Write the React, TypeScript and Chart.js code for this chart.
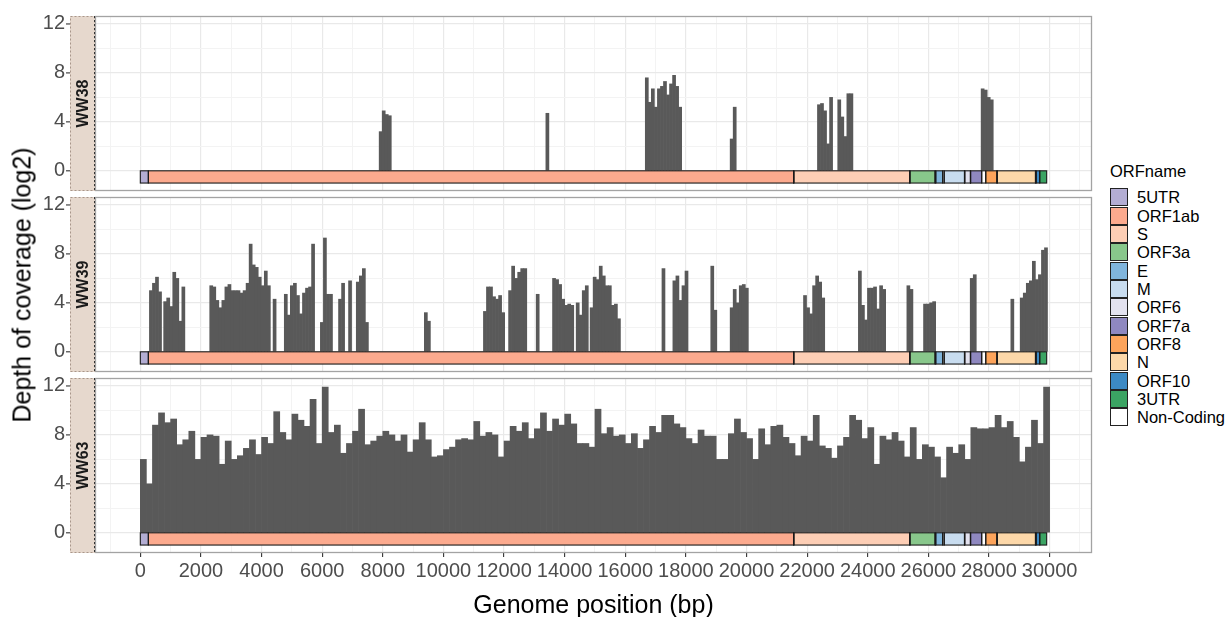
import React, { useEffect, useRef } from "react";
import { Chart, registerables } from "chart.js";

Chart.register(...registerables);

const FONT = '"Liberation Sans", Arial, Helvetica, sans-serif';

// ---------- facets ----------
const sampleNames = ["WW38", "WW39", "WW63"];

// ---------- axes ----------
const xTickLabels = [0, 2000, 4000, 6000, 8000, 10000, 12000, 14000, 16000, 18000, 20000, 22000, 24000, 26000, 28000, 30000];
const xGridBreaks = [-1000, 0, 1000, 2000, 3000, 4000, 5000, 6000, 7000, 8000, 9000, 10000, 11000, 12000, 13000, 14000, 15000, 16000, 17000, 18000, 19000, 20000, 21000, 22000, 23000, 24000, 25000, 26000, 27000, 28000, 29000, 30000, 31000];
const yTickLabels = [0, 4, 8, 12];
const yGridBreaks = [0, 2, 4, 6, 8, 10, 12];
const X_MIN = -1495;
const X_MAX = 31398;
const Y_MIN = -1.65;
const Y_MAX = 12.65;

// ---------- legend / ORF annotation ----------
const orfNames = ["5UTR", "ORF1ab", "S", "ORF3a", "E", "M", "ORF6", "ORF7a", "ORF8", "N", "ORF10", "3UTR", "Non-Coding"];
const orfColors = ["#B3ADD3", "#FCAA8E", "#FDCEB5", "#88C78B", "#80B5DC", "#C8DCEF", "#E3E2EF", "#8F88C0", "#FDA45B", "#FDD8A9", "#3C8AC5", "#3BA463", "#FFFFFF"];

const segName = ["5UTR", "ORF1ab", "Non-Coding", "S", "Non-Coding", "ORF3a", "Non-Coding", "E", "Non-Coding", "M", "Non-Coding", "ORF6", "Non-Coding", "ORF7a", "Non-Coding", "ORF8", "Non-Coding", "N", "Non-Coding", "ORF10", "3UTR"];
const segStart = [1, 266, 21556, 21563, 25385, 25393, 26221, 26245, 26473, 26523, 27192, 27202, 27388, 27394, 27760, 27894, 28260, 28274, 29534, 29558, 29675];
const segEnd = [265, 21555, 21562, 25384, 25392, 26220, 26244, 26472, 26522, 27191, 27201, 27387, 27393, 27759, 27893, 28259, 28273, 29533, 29557, 29674, 29903];

// ---------- coverage (log2 depth) ----------
const SPARSE_BIN = 100; // bp per bar in WW38 / WW39 runs
const DENSE_BIN = 200; // bp per bar in WW63

const ww38RunStarts = [7880, 13380, 16660, 19460, 22340, 23010, 27740];
const ww38RunDepths = [
  [3.2, 4.9, 4.6, 4.5],
  [4.7],
  [7.6, 5.6, 6.7, 5.2, 6.7, 6.9, 7.3, 6.2, 7.1, 7.8, 6.9, 5.2],
  [2.6, 5.2],
  [5.4, 5.5, 4.9, 2.2, 6.0],
  [5.8, 4.4, 2.8, 6.3, 6.3],
  [6.7, 6.6, 6.0, 5.8],
];

const ww39RunStarts = [300, 770, 2290, 4380, 4750, 5940, 6540, 6870, 7125, 9370, 11320, 12150, 13060, 13600, 14380, 14840, 17210, 17570, 18820, 19460, 21880, 23690, 25290, 25840, 27380, 28720, 29030];
const ww39RunDepths = [
  [5.0, 5.6, 6.1, 4.9],
  [4.1, 4.4, 3.7, 6.5, 6.0, 2.5, 5.3],
  [5.4, 5.3, 4.2, 3.6, 4.2, 5.3, 5.5, 5.0, 5.0, 5.0, 4.8, 5.0, 5.6, 8.8, 7.1, 6.9, 6.1, 5.4, 6.6, 5.4],
  [4.3],
  [4.7, 3.0, 5.4, 5.6, 4.6, 3.1, 4.8, 5.2, 5.3, 8.8],
  [2.4, 9.3, 4.7, 4.7],
  [4.3, 5.6],
  [5.8],
  [5.7, 6.2, 6.8, 2.4],
  [3.2, 2.5],
  [3.3, 5.3, 5.3, 4.5, 4.3, 4.6, 3.2],
  [5.0, 7.0, 6.0, 6.5, 6.8, 6.8],
  [4.7],
  [6.0, 5.9, 5.5, 4.3, 3.8, 3.9, 3.8],
  [4.0, 3.0, 5.0, 5.4],
  [3.6, 6.1, 5.9, 7.0, 6.2, 5.4, 5.4, 3.8, 3.9, 2.7],
  [6.8],
  [5.8, 6.2, 4.2, 5.4, 6.6],
  [7.0, 3.4],
  [3.6, 5.1, 4.0, 5.4, 5.5, 5.2],
  [4.6, 3.6, 3.1, 5.4, 6.2, 5.7, 4.4],
  [6.6, 3.8, 2.6, 5.2, 5.2, 5.3, 3.5, 5.4, 5.1],
  [5.4, 5.1],
  [3.9, 3.9, 4.0, 4.1],
  [6.0, 6.3],
  [4.3],
  [4.4, 4.8, 5.6, 5.8, 7.4, 5.9, 6.3, 8.3, 8.5],
];

const ww63Depth = [
  6.0, 4.0, 8.8, 9.8, 9.0, 9.3, 7.2, 7.6, 8.3, 6.0,
  7.8, 8.0, 7.9, 5.6, 7.5, 6.0, 6.3, 6.9, 7.6, 6.4,
  7.8, 7.3, 9.9, 8.2, 7.6, 9.7, 9.2, 8.7, 10.9, 7.3,
  11.9, 8.2, 8.8, 6.5, 7.3, 8.3, 10.1, 7.2, 7.5, 7.9,
  8.3, 8.0, 7.5, 8.0, 6.6, 7.6, 9.0, 7.6, 6.2, 6.3,
  6.8, 7.0, 7.6, 7.7, 7.6, 9.1, 7.9, 8.2, 8.0, 6.2,
  7.5, 8.7, 8.3, 9.0, 7.7, 8.5, 9.8, 8.3, 9.3, 8.8,
  9.7, 8.9, 7.3, 7.3, 7.0, 10.1, 8.1, 8.6, 7.9, 8.0,
  7.3, 8.1, 6.9, 7.6, 8.7, 8.2, 9.6, 9.6, 8.9, 8.6,
  7.7, 7.3, 8.4, 7.9, 7.9, 6.0, 6.0, 8.1, 9.3, 8.2,
  7.7, 6.0, 8.5, 7.2, 8.7, 8.8, 7.8, 7.3, 6.3, 7.9,
  7.5, 9.6, 7.1, 6.9, 6.1, 7.1, 7.8, 9.6, 9.2, 7.7,
  8.6, 5.6, 7.9, 7.6, 8.2, 7.5, 6.2, 8.6, 6.0, 7.2,
  7.0, 6.2, 4.5, 7.0, 6.5, 7.2, 6.0, 8.6, 8.5, 8.5,
  8.6, 9.6, 8.6, 9.1, 7.8, 5.8, 7.0, 9.2, 7.3, 11.9,
];

type Pt = { x: number; y: number };

function runsToPoints(starts: number[], depths: number[][], bin: number): Pt[] {
  const pts: Pt[] = [];
  starts.forEach((s, i) => {
    depths[i].forEach((d, j) => pts.push({ x: s + bin * (j + 0.5), y: d }));
  });
  return pts;
}

function denseToPoints(depths: number[], bin: number): Pt[] {
  return depths.map((d, i) => ({ x: bin * (i + 0.5), y: d }));
}

const sampleData: Pt[][] = [
  runsToPoints(ww38RunStarts, ww38RunDepths, SPARSE_BIN),
  runsToPoints(ww39RunStarts, ww39RunDepths, SPARSE_BIN),
  denseToPoints(ww63Depth, DENSE_BIN),
];

// ---------- layout ----------
const PANEL_TOPS = [16, 197, 378];
const PANEL_H = 175;
const PAD_TOP = 10;
const CANVAS_W = 1100;
const AXIS_W = 95;
const STRIP_L = 70;
const STRIP_R = 95;

function colorFor(name: string): string {
  const i = orfNames.indexOf(name);
  return i >= 0 ? orfColors[i] : "#FFFFFF";
}

function makeDecor(name: string) {
  return {
    id: "decor" + name,
    afterDatasetsDraw(chart: any) {
      const { ctx, scales } = chart;
      const xs = scales.x;
      const ys = scales.y;
      const y0 = ys.getPixelForValue(0);
      const y1 = ys.getPixelForValue(-1);
      ctx.save();
      segStart.forEach((s: number, i: number) => {
        const xa = xs.getPixelForValue(s - 1);
        const xb = xs.getPixelForValue(segEnd[i]);
        ctx.fillStyle = colorFor(segName[i]);
        ctx.fillRect(xa, y0, xb - xa, y1 - y0);
      });
      ctx.lineWidth = 1.1;
      ctx.strokeStyle = "#1A1A1A";
      segStart.forEach((s: number, i: number) => {
        const xa = xs.getPixelForValue(s - 1);
        const xb = xs.getPixelForValue(segEnd[i]);
        ctx.strokeRect(xa, y0, xb - xa, y1 - y0);
      });
      ctx.restore();
    },
    afterDraw(chart: any) {
      const { ctx, chartArea: a, scales } = chart;
      const ys = scales.y;
      ctx.save();
      // panel border
      ctx.strokeStyle = "#A3A3A3";
      ctx.lineWidth = 1.3;
      ctx.strokeRect(a.left + 0.5, a.top + 0.5, a.right - a.left - 1, a.bottom - a.top - 1);
      // strip
      ctx.fillStyle = "#E6D8CD";
      ctx.fillRect(STRIP_L, a.top, STRIP_R - STRIP_L, a.bottom - a.top);
      ctx.setLineDash([2, 2]);
      ctx.lineWidth = 1;
      ctx.strokeStyle = "#A8968A";
      ctx.strokeRect(STRIP_L + 0.5, a.top + 0.5, STRIP_R - STRIP_L - 1, a.bottom - a.top - 1);
      ctx.strokeStyle = "#333333";
      ctx.beginPath();
      ctx.moveTo(STRIP_R - 0.5, a.top);
      ctx.lineTo(STRIP_R - 0.5, a.bottom);
      ctx.stroke();
      ctx.setLineDash([]);
      ctx.translate((STRIP_L + STRIP_R) / 2, (a.top + a.bottom) / 2);
      ctx.rotate(-Math.PI / 2);
      ctx.fillStyle = "#1A1A1A";
      ctx.font = "bold 16px " + FONT;
      ctx.textAlign = "center";
      ctx.textBaseline = "middle";
      ctx.fillText(name, 0, 1);
      ctx.restore();
      // y tick marks (outside strip)
      ctx.save();
      ctx.strokeStyle = "#333333";
      ctx.lineWidth = 1.1;
      yTickLabels.forEach((v) => {
        const py = ys.getPixelForValue(v);
        ctx.beginPath();
        ctx.moveTo(66, py);
        ctx.lineTo(70, py);
        ctx.stroke();
      });
      ctx.restore();
    },
  };
}

function isLabelled(v: number): boolean {
  return xTickLabels.indexOf(v) >= 0;
}

function makeConfig(idx: number, showX: boolean): any {
  return {
    type: "bar",
    data: {
      datasets: [
        {
          data: sampleData[idx],
          backgroundColor: "#595959",
          borderWidth: 0,
          barPercentage: 1,
          categoryPercentage: 1,
        },
      ],
    },
    options: {
      animation: false,
      responsive: false,
      maintainAspectRatio: false,
      events: [],
      layout: { autoPadding: false, padding: { top: PAD_TOP, right: CANVAS_W - 1092, bottom: 0, left: 0 } },
      plugins: { legend: { display: false }, tooltip: { enabled: false } },
      scales: {
        x: {
          type: "linear",
          offset: false,
          min: X_MIN,
          max: X_MAX,
          afterBuildTicks: (s: any) => {
            s.ticks = xGridBreaks.map((v) => ({ value: v }));
          },
          afterFit: (s: any) => {
            s.height = showX ? 40 : 10;
            s.paddingLeft = 0;
            s.paddingRight = 0;
            s.paddingTop = 0;
            s.paddingBottom = 0;
          },
          ticks: {
            display: showX,
            autoSkip: false,
            minRotation: 0,
            maxRotation: 0,
            padding: 2,
            color: "#4D4D4D",
            font: { family: FONT, size: 20 },
            callback: (v: any) => (isLabelled(Number(v)) ? String(v) : ""),
          },
          grid: {
            offset: false,
            color: (c: any) => (c.tick && isLabelled(c.tick.value) ? "#E9E9E9" : "#F3F3F3"),
            lineWidth: (c: any) => (c.tick && isLabelled(c.tick.value) ? 1.2 : 1),
            drawTicks: showX,
            tickLength: 4,
            tickColor: (c: any) => (c.tick && isLabelled(c.tick.value) ? "#333333" : "rgba(0,0,0,0)"),
            tickWidth: 1.1,
          },
          border: { display: false },
        },
        y: {
          type: "linear",
          min: Y_MIN,
          max: Y_MAX,
          afterBuildTicks: (s: any) => {
            s.ticks = yGridBreaks.map((v) => ({ value: v }));
          },
          afterFit: (s: any) => {
            s.width = AXIS_W;
            s.paddingLeft = 0;
            s.paddingRight = 0;
            s.paddingTop = 0;
            s.paddingBottom = 0;
          },
          ticks: {
            padding: 30,
            color: "#4D4D4D",
            font: { family: FONT, size: 20 },
            callback: (v: any) => (yTickLabels.indexOf(Number(v)) >= 0 ? String(v) : ""),
          },
          grid: {
            color: (c: any) => (c.tick && yTickLabels.indexOf(c.tick.value) >= 0 ? "#E9E9E9" : "#F3F3F3"),
            lineWidth: (c: any) => (c.tick && yTickLabels.indexOf(c.tick.value) >= 0 ? 1.2 : 1),
            drawTicks: false,
          },
          border: { display: false },
        },
      },
    },
    plugins: [makeDecor(sampleNames[idx])],
  };
}

function Panel({ idx, showX }: { idx: number; showX: boolean }) {
  const ref = useRef<HTMLCanvasElement>(null);
  const h = PAD_TOP + PANEL_H + (showX ? 40 : 10);
  useEffect(() => {
    const chart = new Chart(ref.current as HTMLCanvasElement, makeConfig(idx, showX));
    return () => chart.destroy();
  }, [idx, showX]);
  return (
    <canvas
      ref={ref}
      width={CANVAS_W}
      height={h}
      style={{ position: "absolute", left: 0, top: PANEL_TOPS[idx] - PAD_TOP, width: CANVAS_W, height: h }}
    />
  );
}

const KEY_TOP = 188.3;
const KEY_STEP = 18.33;

export default function App() {
  return (
    <div
      style={{
        position: "fixed",
        left: 0,
        top: 0,
        width: 1228,
        height: 617,
        background: "#FFFFFF",
        fontFamily: FONT,
        overflow: "hidden",
      }}
    >
      {sampleNames.map((n, i) => (
        <Panel key={n} idx={i} showX={i === sampleNames.length - 1} />
      ))}
      <div
        style={{
          position: "absolute",
          left: 22,
          top: 285,
          transform: "translate(-50%, -50%) rotate(-90deg)",
          fontSize: 25,
          lineHeight: "25px",
          whiteSpace: "nowrap",
          color: "#000",
        }}
      >
        Depth of coverage (log2)
      </div>
      <div
        style={{
          position: "absolute",
          left: 593.5,
          top: 604,
          transform: "translate(-50%, -50%)",
          fontSize: 25,
          lineHeight: "25px",
          whiteSpace: "nowrap",
          color: "#000",
        }}
      >
        Genome position (bp)
      </div>
      <div
        style={{
          position: "absolute",
          left: 1110,
          top: 162,
          fontSize: 16.5,
          lineHeight: "18px",
          whiteSpace: "nowrap",
          color: "#000",
        }}
      >
        ORFname
      </div>
      {orfNames.map((n, i) => (
        <React.Fragment key={n}>
          <div
            style={{
              position: "absolute",
              left: 1110,
              top: KEY_TOP + i * KEY_STEP,
              width: 18,
              height: 18,
              boxSizing: "border-box",
              border: "1px solid #222",
              background: orfColors[i],
            }}
          />
          <div
            style={{
              position: "absolute",
              left: 1137,
              top: KEY_TOP + i * KEY_STEP,
              height: 18,
              lineHeight: "18px",
              fontSize: 16.5,
              whiteSpace: "nowrap",
              color: "#000",
            }}
          >
            {n}
          </div>
        </React.Fragment>
      ))}
    </div>
  );
}
